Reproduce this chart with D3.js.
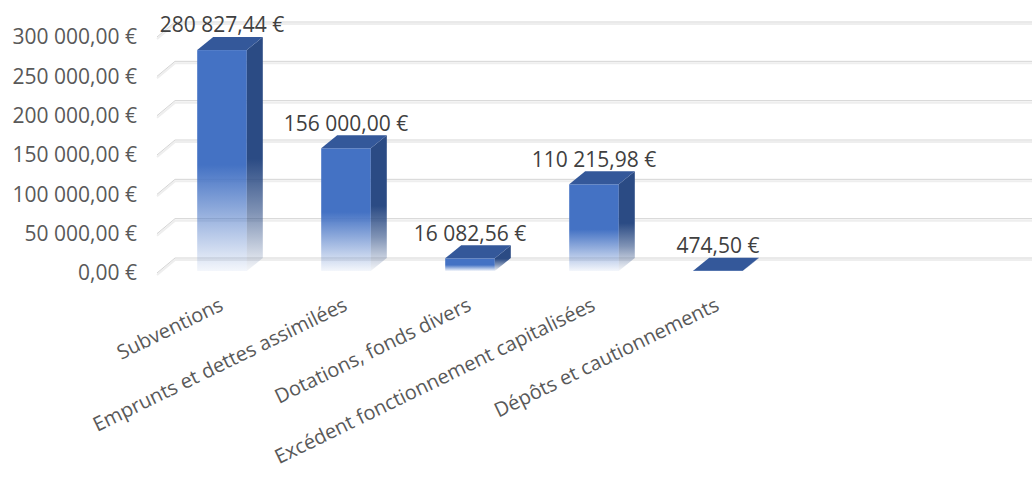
<!DOCTYPE html>
<meta charset="utf-8">
<script src="https://d3js.org/d3.v7.min.js"></script>
<style>
  body { margin: 0; background: #fff; }
  text { font-family: "Open Sans", sans-serif; }
</style>
<body>
<svg width="1032" height="478"></svg>
<script>
var categories = ["Subventions", "Emprunts et dettes assimilées", "Dotations, fonds divers",
                  "Excédent fonctionnement capitalisées", "Dépôts et cautionnements"];
var values = [280827.44, 156000.00, 16082.56, 110215.98, 474.50];
var yTicks = [0, 50000, 100000, 150000, 200000, 250000, 300000];

// depth offsets (oblique 3d look)
var bdx = 16, bdy = 13;     // bar depth
var wdx = 18, wdy = 15;     // side wall depth

var fr = d3.formatLocale({decimal: ",", thousands: "\u00a0", grouping: [3], currency: ["", "\u00a0€"]});
var money = fr.format("$,.2f");

var svg = d3.select("svg");
var defs = svg.append("defs");

var x = d3.scaleBand().domain(categories).range([160, 780]).paddingInner(0.6).paddingOuter(0.3);
var y = d3.scaleLinear().domain([0, 300000]).range([258, 22]); // back wall

function grad(id, color, stops) {
  var g = defs.append("linearGradient").attr("id", id)
      .attr("x1", 0).attr("y1", 0).attr("x2", 0).attr("y2", 1);
  stops.forEach(function(s){
    g.append("stop").attr("offset", s[0]).attr("stop-color", color).attr("stop-opacity", s[1]);
  });
}
grad("gFront", "#4472c4", [[0, 1], [0.52, 1], [0.75, 0.55], [1, 0.06]]);
grad("gSide", "#2b4b84", [[0, 1], [0.52, 1], [0.75, 0.6], [1, 0.05]]);

/* ----------- GRID ----------- */
var grid = svg.append("g");
yTicks.forEach(function(t){
  var yy = y(t);
  grid.append("path")
      .attr("d", "M" + (157) + "," + (yy + wdy + 2) + "L" + (157 + wdx) + "," + (yy + 2) + "L1032," + (yy + 2))
      .attr("fill", "none").attr("stroke", "#eeeeee").attr("stroke-width", 2);
  grid.append("path")
      .attr("d", "M" + (157) + "," + (yy + wdy) + "L" + (157 + wdx) + "," + yy + "L1032," + yy)
      .attr("fill", "none").attr("stroke", "#d4d4d4").attr("stroke-width", 1);
});

svg.append("g").selectAll("text.ytick").data(yTicks).enter()
  .append("text").attr("class", "ytick")
  .attr("x", 137).attr("y", function(d){ return y(d) + wdy; })
  .attr("dy", "0.35em").attr("text-anchor", "end")
  .attr("font-size", 21).attr("fill", "#595959")
  .text(function(d){ return money(d); });

/* ----------- BARS ----------- */
var data = categories.map(function(c, i){ return {c: c, v: values[i]}; });
var bw = x.bandwidth();
var bars = svg.append("g").selectAll("g.bar").data(data).enter().append("g").attr("class", "bar");

bars.append("rect")
  .attr("x", function(d){ return x(d.c); })
  .attr("y", function(d){ return y(d.v) + bdy; })
  .attr("width", bw)
  .attr("height", function(d){ return Math.max(0.5, y(0) - y(d.v)); })
  .attr("fill", "url(#gFront)");

bars.append("path")
  .attr("fill", "url(#gSide)")
  .attr("d", function(d){
    var x1 = x(d.c) + bw, yt = y(d.v) + bdy, yb = y(0) + bdy;
    return "M" + x1 + "," + yt + "L" + (x1 + bdx) + "," + (yt - bdy) +
           "L" + (x1 + bdx) + "," + (yb - bdy) + "L" + x1 + "," + yb + "Z";
  });

bars.append("path")
  .attr("fill", "#34589a")
  .attr("d", function(d){
    var x0 = x(d.c), x1 = x0 + bw, yt = y(d.v) + bdy;
    return "M" + x0 + "," + yt + "L" + (x0 + bdx) + "," + (yt - bdy) +
           "L" + (x1 + bdx) + "," + (yt - bdy) + "L" + x1 + "," + yt + "Z";
  });

bars.append("text")
  .attr("x", function(d){ return x(d.c) + bw / 2; })
  .attr("y", function(d){ return y(d.v) - 12; })
  .attr("dy", "0.35em").attr("text-anchor", "middle")
  .attr("font-size", 21).attr("fill", "#404040")
  .text(function(d){ return money(d.v); });

/* ----------- CATEGORY LABELS ----------- */
svg.append("g").selectAll("text.cat").data(categories).enter()
  .append("text").attr("class", "cat")
  .attr("transform", function(d){ return "translate(" + (x(d) + bw / 2 - 4) + ",296) rotate(-26)"; })
  .attr("text-anchor", "end").attr("dy", "0.75em")
  .attr("font-size", 20).attr("fill", "#595959")
  .text(function(d){ return d; });
</script>
